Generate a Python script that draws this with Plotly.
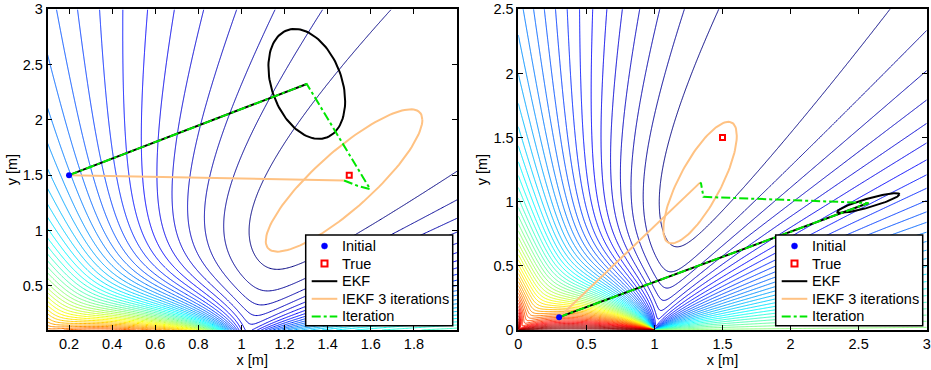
import numpy as np
import plotly.graph_objects as go

# ---------------- data ----------------
SENSOR_X = [0.0, 1.0]          # bearing sensors
SENSOR_Y = [0.0, 0.0]
TRUE_POS = [1.5, 1.5]
N_LEVELS = 51

# left panel
L_XRANGE = [0.1, 2.0]
L_YRANGE = [0.1, 3.0]
L_INIT = [0.2, 1.5]
L_EKF_X = [0.2, 1.303]
L_EKF_Y = [1.5, 2.325]
L_IEKF_X = [0.2, 1.476]
L_IEKF_Y = [1.5, 1.452]
L_ITER_X = [0.2, 1.303, 1.597, 1.538, 1.476]
L_ITER_Y = [1.5, 2.325, 1.374, 1.404, 1.452]
L_EKF_COV = [[0.0317, -0.0278], [-0.0278, 0.247]]
L_IEKF_COV = [[0.132, 0.199], [0.199, 0.414]]

# right panel
R_XRANGE = [0.0, 3.0]
R_YRANGE = [0.0, 2.5]
R_INIT = [0.3, 0.1]
R_EKF_X = [0.3, 2.572]
R_EKF_Y = [0.1, 0.99]
R_IEKF_X = [0.3, 1.335]
R_IEKF_Y = [0.1, 1.149]
R_ITER_X = [0.3, 2.572, 1.36, 1.342, 1.335]
R_ITER_Y = [0.1, 0.99, 1.038, 1.143, 1.149]
R_EKF_COV = [[0.0524, 0.0156], [0.0156, 0.0059]]
R_IEKF_COV = [[0.0729, 0.0986], [0.0986, 0.2247]]

X_TICKS_L = [0.2, 0.4, 0.6, 0.8, 1.0, 1.2, 1.4, 1.6, 1.8]
X_TICKTEXT_L = ["0.2", "0.4", "0.6", "0.8", "1", "1.2", "1.4", "1.6", "1.8"]
Y_TICKS_L = [0.5, 1.0, 1.5, 2.0, 2.5, 3.0]
Y_TICKTEXT_L = ["0.5", "1", "1.5", "2", "2.5", "3"]
X_TICKS_R = [0, 0.5, 1, 1.5, 2, 2.5, 3]
X_TICKTEXT_R = ["0", "0.5", "1", "1.5", "2", "2.5", "3"]
Y_TICKS_R = [0, 0.5, 1, 1.5, 2, 2.5]
Y_TICKTEXT_R = ["0", "0.5", "1", "1.5", "2", "2.5"]

LEGEND_LABELS = ["Initial", "True", "EKF", "IEKF 3 iterations", "Iteration"]

JET = [[0, "#000080"], [0.125, "#0000ff"], [0.375, "#00ffff"],
       [0.625, "#ffff00"], [0.875, "#ff0000"], [1, "#800000"]]

EKF_COLOR = "black"
IEKF_COLOR = "#ffc283"
ITER_COLOR = "#00e600"
INIT_COLOR = "blue"
TRUE_COLOR = "red"

W, H = 931, 370


def cost(xr, yr, step=0.006):
    xs = np.arange(xr[0], xr[1] + step / 2, step)
    ys = np.arange(yr[0], yr[1] + step / 2, step)
    X, Y = np.meshgrid(xs, ys)
    Z = np.zeros_like(X)
    for sx, sy in zip(SENSOR_X, SENSOR_Y):
        meas = np.arctan2(TRUE_POS[1] - sy, TRUE_POS[0] - sx)
        Z += (np.arctan2(Y - sy, X - sx) - meas) ** 2
    return xs, ys, np.round(Z, 4)


def ellipse(center, cov, n=120):
    L = np.linalg.cholesky(np.array(cov))
    t = np.linspace(0, 2 * np.pi, n)
    pts = L @ np.vstack([np.cos(t), np.sin(t)])
    return center[0] + pts[0], center[1] + pts[1]


def px(xp):
    return xp / W


def py(yp):
    return 1 - yp / H


# global colour / level range (from the wider right panel)
_, _, ZR = cost(R_XRANGE, R_YRANGE)
ZMAX = float(ZR.max())
DZ = ZMAX / N_LEVELS

fig = go.Figure()

panels = [
    ("x", "y", L_XRANGE, L_YRANGE, L_INIT, L_EKF_X, L_EKF_Y, L_IEKF_X, L_IEKF_Y,
     L_ITER_X, L_ITER_Y, L_EKF_COV, L_IEKF_COV),
    ("x2", "y2", R_XRANGE, R_YRANGE, R_INIT, R_EKF_X, R_EKF_Y, R_IEKF_X, R_IEKF_Y,
     R_ITER_X, R_ITER_Y, R_EKF_COV, R_IEKF_COV),
]

for (xa, ya, xr, yr, init, ekx, eky, iex, iey, itx, ity, ecov, icov) in panels:
    xs, ys, Z = cost(xr, yr)
    fig.add_trace(go.Contour(
        x=xs, y=ys, z=Z, xaxis=xa, yaxis=ya,
        contours=dict(coloring="lines", start=DZ, end=ZMAX - DZ / 2, size=DZ),
        autocontour=False, line=dict(width=1), colorscale=JET,
        zmin=0, zmax=ZMAX, zauto=False, showscale=False,
        hoverinfo="skip", showlegend=False))
    ex, ey = ellipse([ekx[-1], eky[-1]], ecov)
    fig.add_trace(go.Scatter(x=ex, y=ey, mode="lines", xaxis=xa, yaxis=ya,
                             line=dict(color=EKF_COLOR, width=2), showlegend=False,
                             hoverinfo="skip"))
    ix, iy = ellipse([iex[-1], iey[-1]], icov)
    fig.add_trace(go.Scatter(x=ix, y=iy, mode="lines", xaxis=xa, yaxis=ya,
                             line=dict(color=IEKF_COLOR, width=2), showlegend=False,
                             hoverinfo="skip"))
    fig.add_trace(go.Scatter(x=ekx, y=eky, mode="lines", name="EKF", xaxis=xa, yaxis=ya,
                             line=dict(color=EKF_COLOR, width=2), showlegend=False))
    fig.add_trace(go.Scatter(x=iex, y=iey, mode="lines", name="IEKF 3 iterations",
                             xaxis=xa, yaxis=ya, showlegend=False,
                             line=dict(color=IEKF_COLOR, width=2)))
    fig.add_trace(go.Scatter(x=itx, y=ity, mode="lines", name="Iteration",
                             xaxis=xa, yaxis=ya, showlegend=False,
                             line=dict(color=ITER_COLOR, width=2, dash="dashdot")))
    fig.add_trace(go.Scatter(x=[init[0]], y=[init[1]], mode="markers", name="Initial",
                             xaxis=xa, yaxis=ya, showlegend=False,
                             marker=dict(color=INIT_COLOR, size=6, symbol="circle")))
    fig.add_trace(go.Scatter(x=[TRUE_POS[0]], y=[TRUE_POS[1]], mode="markers", name="True",
                             xaxis=xa, yaxis=ya, showlegend=False,
                             marker=dict(color=TRUE_COLOR, size=5, symbol="square-open",
                                         line=dict(width=2, color=TRUE_COLOR))))

FONT = dict(family="Liberation Sans, Arial, sans-serif", size=14.5, color="black")

# ---------- manual legends (one per panel) ----------
shapes = []
annotations = []
ROW_Y = [246, 263.6, 281.2, 298.8, 316.4]
for dx in (0, 470):
    bx0, bx1, by0, by1 = 305.7 + dx, 452.7 + dx, 235, 325.7
    shapes.append(dict(type="rect", xref="paper", yref="paper",
                       x0=px(bx0), x1=px(bx1), y0=py(by1), y1=py(by0),
                       fillcolor="white", line=dict(color="black", width=1.5),
                       layer="above"))
    sx = 324.5 + dx
    lx0, lx1 = 311.7 + dx, 337.3 + dx
    r = 3
    shapes.append(dict(type="circle", xref="paper", yref="paper",
                       x0=px(sx - r), x1=px(sx + r), y0=py(ROW_Y[0] + r), y1=py(ROW_Y[0] - r),
                       fillcolor=INIT_COLOR, line=dict(color=INIT_COLOR, width=0.5),
                       layer="above"))
    s = 3
    shapes.append(dict(type="rect", xref="paper", yref="paper",
                       x0=px(sx - s), x1=px(sx + s), y0=py(ROW_Y[1] + s), y1=py(ROW_Y[1] - s),
                       fillcolor="white", line=dict(color=TRUE_COLOR, width=2),
                       layer="above"))
    for row, col, dash in ((2, EKF_COLOR, "solid"), (3, IEKF_COLOR, "solid"),
                           (4, ITER_COLOR, "dashdot")):
        shapes.append(dict(type="line", xref="paper", yref="paper",
                           x0=px(lx0), x1=px(lx1), y0=py(ROW_Y[row]), y1=py(ROW_Y[row]),
                           line=dict(color=col, width=2, dash=dash), layer="above"))
    for label, ry in zip(LEGEND_LABELS, ROW_Y):
        annotations.append(dict(text=label, xref="paper", yref="paper",
                                x=px(340 + dx), y=py(ry), xanchor="left", yanchor="middle",
                                showarrow=False, font=FONT))

ax_common = dict(showline=True, mirror="ticks", linecolor="black", linewidth=1.5,
                 ticks="inside", ticklen=5, tickwidth=1, tickcolor="black",
                 showgrid=False, zeroline=False, automargin=False,
                 tickfont=FONT)

Y0 = 1 - 330 / H
Y1 = 1 - 9.3 / H
fig.update_layout(
    width=W, height=H, margin=dict(l=0, r=0, t=0, b=0),
    paper_bgcolor="white", plot_bgcolor="white", font=FONT,
    showlegend=False, shapes=shapes, annotations=annotations,
    xaxis=dict(ax_common, domain=[47.5 / W, 457 / W], range=L_XRANGE,
               tickvals=X_TICKS_L, ticktext=X_TICKTEXT_L,
               title=dict(text="x [m]", standoff=1, font=FONT), anchor="y"),
    yaxis=dict(ax_common, domain=[Y0, Y1], range=L_YRANGE,
               tickvals=Y_TICKS_L, ticktext=Y_TICKTEXT_L,
               title=dict(text="y [m]", standoff=2, font=FONT), anchor="x"),
    xaxis2=dict(ax_common, domain=[518.3 / W, 926.7 / W], range=R_XRANGE,
                tickvals=X_TICKS_R, ticktext=X_TICKTEXT_R,
                title=dict(text="x [m]", standoff=1, font=FONT), anchor="y2"),
    yaxis2=dict(ax_common, domain=[Y0, Y1], range=R_YRANGE,
                tickvals=Y_TICKS_R, ticktext=Y_TICKTEXT_R,
                title=dict(text="y [m]", standoff=2, font=FONT), anchor="x2"),
)

fig.write_html("out.html")
